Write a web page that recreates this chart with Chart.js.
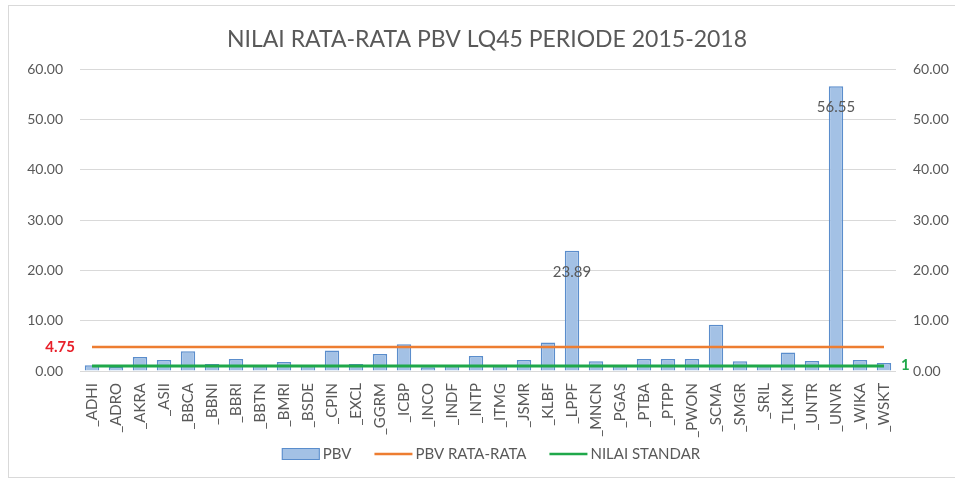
<!DOCTYPE html>
<html>
<head>
<meta charset="utf-8">
<script src="https://cdn.jsdelivr.net/npm/chart.js@4/dist/chart.umd.min.js"></script>
<style>
  html, body { margin: 0; padding: 0; background: #ffffff; }
  #wrap { width: 955px; height: 480px; position: relative; }
</style>
</head>
<body>
<div id="wrap"><canvas id="c" width="955" height="480"></canvas></div>
<script>
const TITLE = 'NILAI RATA-RATA PBV LQ45 PERIODE 2015-2018';
const categories = ['_ADHI','_ADRO','_AKRA','_ASII','_BBCA','_BBNI','_BBRI','_BBTN','_BMRI','_BSDE',
  '_CPIN','_EXCL','_GGRM','_ICBP','_INCO','_INDF','_INTP','_ITMG','_JSMR','_KLBF',
  '_LPPF','_MNCN','_PGAS','_PTBA','_PTPP','_PWON','_SCMA','_SMGR','_SRIL','_TLKM',
  '_UNTR','_UNVR','_WIKA','_WSKT'];
const pbvValues = [1.15, 0.8, 2.77, 2.2, 3.9, 1.4, 2.4, 1.15, 1.8, 1.2,
  4.05, 1.4, 3.4, 5.3, 0.75, 1.15, 2.97, 1.15, 2.2, 5.67,
  23.89, 1.95, 1.15, 2.36, 2.36, 2.36, 9.2, 1.95, 1.2, 3.7,
  2.0, 56.55, 2.2, 1.6];
const avgValue = 4.75;        // PBV RATA-RATA
const standardValue = 1;      // NILAI STANDAR
const labelledBars = ['_LPPF', '_UNVR'];
const yTicks = [0, 10, 20, 30, 40, 50, 60];
const seriesNames = ['PBV', 'PBV RATA-RATA', 'NILAI STANDAR'];

const TEXT = '#595959';
const FONT = 'Lato, "Open Sans", sans-serif';
const BAR_FILL = '#a3c1e5';
const BAR_EDGE = '#5a8dcc';
const ORANGE = '#ed7d31';
const GREEN = '#1fa84a';

const avgSeries = categories.map(() => avgValue);
const stdSeries = categories.map(() => standardValue);

const framePlugin = {
  id: 'frame',
  beforeDraw(chart) {
    const ctx = chart.ctx;
    ctx.save();
    ctx.fillStyle = '#ffffff';
    ctx.fillRect(0, 0, chart.width, chart.height);
    ctx.strokeStyle = '#d9d9d9';
    ctx.lineWidth = 1;
    ctx.strokeRect(8.5, 5.5, 955, 472);
    ctx.fillStyle = TEXT;
    ctx.font = '23px ' + FONT;
    ctx.textAlign = 'center';
    ctx.textBaseline = 'middle';
    ctx.fillText(TITLE, 487, 40);
    ctx.restore();
  },
  afterDatasetsDraw(chart) {
    const ctx = chart.ctx;
    const ys = chart.scales.y;
    const area = chart.chartArea;
    ctx.save();
    // value labels on selected bars
    const meta = chart.getDatasetMeta(0);
    ctx.font = '15px ' + FONT;
    ctx.fillStyle = TEXT;
    ctx.textAlign = 'center';
    ctx.textBaseline = 'middle';
    meta.data.forEach((bar, i) => {
      if (labelledBars.includes(categories[i])) {
        ctx.fillText(pbvValues[i].toFixed(2), bar.x, bar.y + 21);
      }
    });
    // reference line value labels
    ctx.font = 'bold 15px ' + FONT;
    ctx.fillStyle = '#e8202a';
    ctx.textAlign = 'right';
    ctx.fillText(String(avgValue.toFixed(2)), area.left - 5, ys.getPixelForValue(avgValue));
    ctx.fillStyle = GREEN;
    ctx.textAlign = 'left';
    ctx.fillText(String(standardValue), area.right + 5, ys.getPixelForValue(standardValue) - 1);
    ctx.restore();
  },
  afterDraw(chart) {
    // legend
    const ctx = chart.ctx;
    ctx.save();
    ctx.font = '15px ' + FONT;
    ctx.textBaseline = 'middle';
    ctx.textAlign = 'left';
    const sym = 38, gapText = 3, gapItem = 23;
    const widths = seriesNames.map(n => sym + gapText + ctx.measureText(n).width);
    const total = widths.reduce((a, b) => a + b, 0) + gapItem * (widths.length - 1);
    let x = 491 - total / 2;
    const y = 454;
    chart.data.datasets.forEach((ds, i) => {
      if (ds.type === 'bar') {
        ctx.fillStyle = ds.backgroundColor;
        ctx.fillRect(x, y - 6, sym, 12);
        ctx.strokeStyle = ds.borderColor;
        ctx.lineWidth = 1;
        ctx.strokeRect(x + 0.5, y - 5.5, sym - 1, 11);
      } else {
        ctx.strokeStyle = ds.borderColor;
        ctx.lineWidth = 2.5;
        ctx.beginPath();
        ctx.moveTo(x, y);
        ctx.lineTo(x + sym, y);
        ctx.stroke();
      }
      ctx.fillStyle = TEXT;
      ctx.fillText(ds.label, x + sym + gapText, y);
      x += widths[i] + gapItem;
    });
    ctx.restore();
  }
};

const tickFmt = v => Number(v).toFixed(2);

new Chart(document.getElementById('c'), {
  data: {
    labels: categories,
    datasets: [
      { type: 'bar', label: seriesNames[0], data: pbvValues, backgroundColor: BAR_FILL,
        borderColor: BAR_EDGE, borderWidth: 1.5, order: 3, yAxisID: 'y',
        categoryPercentage: 1, barPercentage: 0.6 },
      { type: 'line', label: seriesNames[1], data: avgSeries, borderColor: ORANGE, backgroundColor: ORANGE,
        borderWidth: 2.5, pointRadius: 0, tension: 0, order: 2, yAxisID: 'y' },
      { type: 'line', label: seriesNames[2], data: stdSeries, borderColor: GREEN, backgroundColor: GREEN,
        borderWidth: 3, pointRadius: 0, tension: 0, order: 1, yAxisID: 'y' }
    ]
  },
  options: {
    responsive: false,
    animation: false,
    layout: { padding: { top: 69, left: 0, right: 0, bottom: 0 } },
    plugins: { legend: { display: false }, title: { display: false }, tooltip: { enabled: false } },
    scales: {
      x: {
        grid: { display: false, drawTicks: false },
        border: { display: false },
        ticks: { autoSkip: false, minRotation: 90, maxRotation: 90, padding: 12,
          color: TEXT, font: { family: FONT, size: 15 } },
        afterFit: s => { s.height = 109; }
      },
      y: {
        position: 'left', min: 0, max: 60,
        afterBuildTicks: s => { s.ticks = yTicks.map(v => ({ value: v })); },
        grid: { color: '#d9d9d9', lineWidth: 1, drawTicks: false },
        border: { display: false },
        ticks: { padding: 17, color: TEXT, font: { family: FONT, size: 14 }, callback: tickFmt },
        afterFit: s => { s.width = 80; }
      },
      y2: {
        position: 'right', min: 0, max: 60,
        afterBuildTicks: s => { s.ticks = yTicks.map(v => ({ value: v })); },
        grid: { display: false, drawTicks: false },
        border: { display: false },
        ticks: { padding: 17, color: TEXT, font: { family: FONT, size: 14 }, callback: tickFmt },
        afterFit: s => { s.width = 59; }
      }
    }
  },
  plugins: [framePlugin]
});
</script>
</body>
</html>
